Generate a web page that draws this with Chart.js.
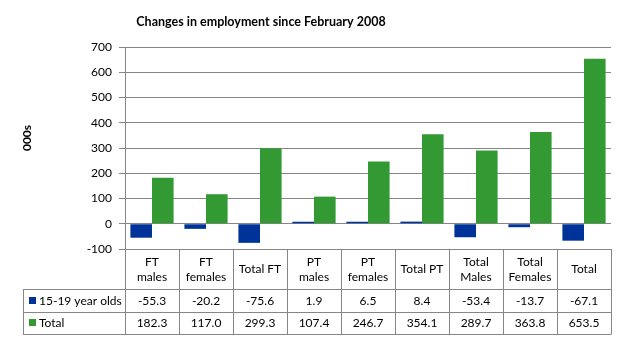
<!DOCTYPE html>
<html>
<head>
<meta charset="utf-8">
<script src="https://cdn.jsdelivr.net/npm/chart.js@4"></script>
<style>
  body { margin: 0; background: #fff; }
  canvas { display: block; }
</style>
</head>
<body>
<canvas id="myChart" width="623" height="342"></canvas>
<script>
// categories as they appear in the data table (arrays = two lines)
const categories = [['FT', 'males'], ['FT', 'females'], 'Total FT', ['PT', 'males'], ['PT', 'females'], 'Total PT', ['Total', 'Males'], ['Total', 'Females'], 'Total'];
const seriesNames = ['15-19 year olds', 'Total'];
const youthValues = [-55.3, -20.2, -75.6, 1.9, 6.5, 8.4, -53.4, -13.7, -67.1];
const totalValues = [182.3, 117.0, 299.3, 107.4, 246.7, 354.1, 289.7, 363.8, 653.5];
const yTicks = [-100, 0, 100, 200, 300, 400, 500, 600, 700];

const blue = '#003399';
const green = '#339933';
const lineColor = '#868686';
const font = 'Lato, "Open Sans", sans-serif';

// title, y axis title and data table below the plot
const tablePlugin = {
    id: 'dataTable',
    afterDraw(chart) {
        const ctx = chart.ctx;
        const area = chart.chartArea;
        const x = chart.scales.x;
        const n = categories.length;
        const colW = (area.right - area.left) / n;
        const top = area.bottom;
        const row1 = top + 40;
        const row2 = row1 + 23;
        const bottom = row2 + 22;
        const legendLeft = 23;

        ctx.save();
        // title
        ctx.fillStyle = '#000';
        ctx.font = 'bold 12.5px ' + font;
        ctx.textAlign = 'center';
        ctx.textBaseline = 'middle';
        ctx.fillText('Changes in employment since February 2008', 261, 22);

        // y axis title
        ctx.save();
        ctx.translate(27, 138);
        ctx.rotate(-Math.PI / 2);
        ctx.font = 'bold 12px ' + font;
        ctx.fillText('000s', 0, 0);
        ctx.restore();

        // grid of the table
        ctx.strokeStyle = lineColor;
        ctx.lineWidth = 1;
        ctx.beginPath();
        for (let i = 0; i <= n; i++) {
            const px = Math.round(area.left + i * colW) + 0.5;
            ctx.moveTo(px, top);
            ctx.lineTo(px, bottom);
        }
        [row1, row2, bottom].forEach(y => {
            ctx.moveTo(legendLeft, y + 0.5);
            ctx.lineTo(Math.round(area.right) + 0.5, y + 0.5);
        });
        ctx.moveTo(legendLeft + 0.5, row1);
        ctx.lineTo(legendLeft + 0.5, bottom);
        ctx.stroke();

        // header labels
        ctx.fillStyle = '#000';
        ctx.font = '12px ' + font;
        categories.forEach((c, i) => {
            const cx = x.getPixelForValue(i);
            if (Array.isArray(c)) {
                ctx.fillText(c[0], cx, top + 13);
                ctx.fillText(c[1], cx, top + 28);
            } else {
                ctx.fillText(c, cx, top + 20);
            }
        });

        // value rows with legend keys
        const rows = [[youthValues, blue, row1 + 12], [totalValues, green, row2 + 11]];
        rows.forEach(([vals, color, y], r) => {
            ctx.fillStyle = color;
            ctx.fillRect(legendLeft + 6, y - 4, 7, 7);
            ctx.fillStyle = '#000';
            ctx.textAlign = 'left';
            ctx.fillText(seriesNames[r], legendLeft + 16, y);
            ctx.textAlign = 'center';
            vals.forEach((v, i) => {
                ctx.fillText(v.toFixed(1), x.getPixelForValue(i), y);
            });
        });
        ctx.restore();
    }
};

new Chart(document.getElementById('myChart'), {
    type: 'bar',
    data: {
        labels: categories.map(c => Array.isArray(c) ? c.join(' ') : c),
        datasets: [
            { label: seriesNames[0], data: youthValues, backgroundColor: blue, minBarLength: 2 },
            { label: seriesNames[1], data: totalValues, backgroundColor: green }
        ]
    },
    options: {
        responsive: false,
        animation: false,
        layout: { padding: { left: 0, right: 12, top: 47, bottom: 93 } },
        datasets: { bar: { categoryPercentage: 0.8, barPercentage: 1.0 } },
        plugins: {
            legend: { display: false },
            tooltip: { enabled: false }
        },
        scales: {
            x: { display: false },
            y: {
                min: -100,
                max: 700,
                afterFit(scale) { scale.width = 125; },
                afterBuildTicks(scale) { scale.ticks = yTicks.map(v => ({ value: v })); },
                ticks: { color: '#000', padding: 7, font: { family: font, size: 12 } },
                grid: { color: lineColor, tickLength: 6, drawTicks: true },
                border: { color: lineColor }
            }
        }
    },
    plugins: [tablePlugin]
});
</script>
</body>
</html>
